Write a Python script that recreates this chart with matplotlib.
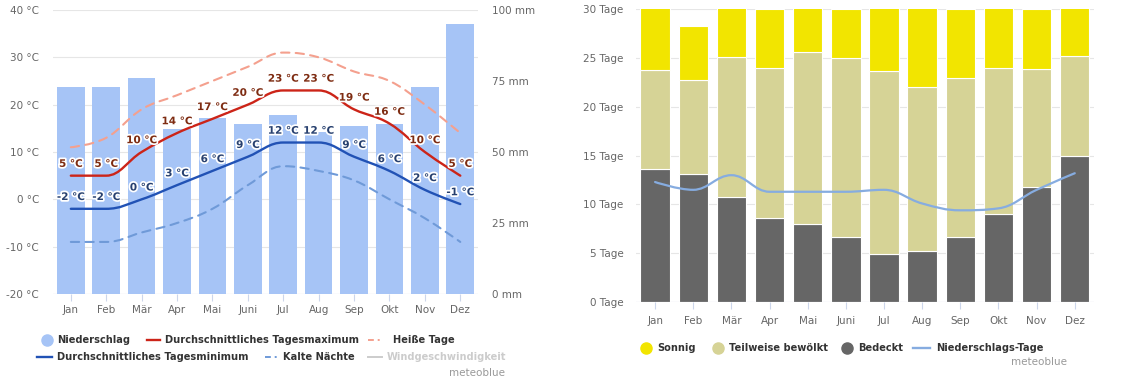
import numpy as np
import matplotlib
matplotlib.use("Agg")
import matplotlib.pyplot as plt
from matplotlib.path import Path
from matplotlib.patches import PathPatch
from matplotlib.lines import Line2D
import matplotlib.patheffects as pe

plt.rcParams['font.family'] = ['DejaVu Sans']

months = ["Jan", "Feb", "Mär", "Apr", "Mai", "Juni", "Jul", "Aug", "Sep", "Okt", "Nov", "Dez"]

# left chart
precip = [73, 73, 76, 58, 62, 60, 63, 57, 59, 60, 73, 95]
t_max = [5, 5, 10, 14, 17, 20, 23, 23, 19, 16, 10, 5]
t_min = [-2, -2, 0, 3, 6, 9, 12, 12, 9, 6, 2, -1]
hot_days = [11, 13, 19, 22, 25, 28, 31, 30, 27, 25, 20, 14]
cold_nights = [-9, -9, -7, -5, -2, 3, 7, 6, 4, 0, -4, -9]

# right chart
overcast = [13.6, 13.1, 10.8, 8.6, 8.0, 6.7, 4.9, 5.2, 6.7, 9.0, 11.8, 15.0]
partly = [10.2, 9.7, 14.3, 15.4, 17.6, 18.3, 18.8, 16.8, 16.3, 15.0, 12.1, 10.2]
sunny = [7.2, 5.45, 5.9, 6.0, 5.4, 5.0, 7.3, 9.0, 7.0, 7.0, 6.1, 5.8]
rain_days = [12.3, 11.5, 13.0, 11.3, 11.3, 11.3, 11.5, 10.1, 9.4, 9.6, 11.5, 13.2]

GRID = "#e6e6e6"
TICK = "#ccd6eb"
LBL = "#666666"


def spline_path(xs, ys, smoothing=1.5):
    # Highcharts style spline: cubic bezier segments between the data points
    denom = smoothing + 1
    n = len(xs)
    lc = [None] * n
    rc = [None] * n
    for i in range(1, n - 1):
        x, y = xs[i], ys[i]
        lx, ly = xs[i - 1], ys[i - 1]
        nx, ny = xs[i + 1], ys[i + 1]
        lcx = (smoothing * x + lx) / denom
        lcy = (smoothing * y + ly) / denom
        rcx = (smoothing * x + nx) / denom
        rcy = (smoothing * y + ny) / denom
        corr = (rcy - lcy) * (rcx - x) / (rcx - lcx) + y - rcy
        lcy += corr
        rcy += corr
        if lcy > ly and lcy > y:
            lcy = max(ly, y)
            rcy = 2 * y - lcy
        elif lcy < ly and lcy < y:
            lcy = min(ly, y)
            rcy = 2 * y - lcy
        if rcy > ny and rcy > y:
            rcy = max(ny, y)
            lcy = 2 * y - rcy
        elif rcy < ny and rcy < y:
            rcy = min(ny, y)
            lcy = 2 * y - rcy
        lc[i] = (lcx, lcy)
        rc[i] = (rcx, rcy)
    verts = [(xs[0], ys[0])]
    codes = [Path.MOVETO]
    for i in range(1, n):
        c1 = rc[i - 1] if rc[i - 1] else (xs[i - 1], ys[i - 1])
        c2 = lc[i] if lc[i] else (xs[i], ys[i])
        verts += [c1, c2, (xs[i], ys[i])]
        codes += [Path.CURVE4] * 3
    return Path(verts, codes)


def draw_spline(ax, xs, ys, color, lw, dashes=None):
    patch = PathPatch(spline_path(list(xs), list(ys)), facecolor="none",
                      edgecolor=color, lw=lw, capstyle="round", joinstyle="round")
    if dashes:
        patch.set_linestyle((0, dashes))
    ax.add_patch(patch)


def style_axis(ax):
    for s in ax.spines.values():
        s.set_visible(False)
    ax.tick_params(axis="y", length=0, labelsize=7.5, labelcolor=LBL)
    ax.tick_params(axis="x", length=5, width=0.8, color=TICK, labelsize=7.5,
                   labelcolor=LBL, pad=3)


fig = plt.figure(figsize=(11.4, 3.87), dpi=100)

# ---------------- left chart ----------------
x = np.arange(12)
ax = fig.add_axes([0.0466, 0.2403, 0.3727, 0.7339])
ax2 = ax.twinx()
ax3 = ax.twinx()

ax.set_ylim(-20, 40)
ax.set_yticks(range(-20, 41, 10))
ax.set_yticklabels([f"{v} °C" for v in range(-20, 41, 10)])
ax.grid(axis="y", color=GRID, lw=0.8)
ax.set_axisbelow(True)
ax.set_xlim(-0.5, 11.5)
ax.set_xticks(x)
ax.set_xticklabels(months)
style_axis(ax)
ax.tick_params(axis="y", pad=10)
ax.axhline(-20, color=TICK, lw=0.8)

ax2.set_ylim(0, 100)
ax2.set_yticks([0, 25, 50, 75, 100])
ax2.set_yticklabels([f"{v} mm" for v in [0, 25, 50, 75, 100]])
ax2.bar(x, precip, width=0.78, color="#a6c4f6", zorder=2)
style_axis(ax2)
ax2.tick_params(axis="y", pad=10)

ax3.set_ylim(-20, 40)
ax3.set_yticks([])
for s in ax3.spines.values():
    s.set_visible(False)
draw_spline(ax3, x, hot_days, "#f4a08e", 1.5, (4, 3))
draw_spline(ax3, x, cold_nights, "#6f9ad8", 1.5, (4, 3))
draw_spline(ax3, x, t_max, "#cc2418", 1.7)
draw_spline(ax3, x, t_min, "#2152b5", 1.7)

outline = [pe.withStroke(linewidth=2.5, foreground="white")]
for i in range(12):
    ax3.annotate(f"{t_max[i]} °C", (x[i], t_max[i]), xytext=(0, 8.5),
                 textcoords="offset points", ha="center", va="center",
                 fontsize=7.5, fontweight="bold", color="#7e2c12", path_effects=outline)
    ax3.annotate(f"{t_min[i]} °C", (x[i], t_min[i]), xytext=(0, 8.5),
                 textcoords="offset points", ha="center", va="center",
                 fontsize=7.5, fontweight="bold", color="#27406f", path_effects=outline)

# ---------------- right chart ----------------
bx = fig.add_axes([0.5579, 0.2196, 0.4016, 0.7563])
bx.set_ylim(0, 30)
bx.set_xlim(-0.5, 11.5)
bx.set_yticks(range(0, 31, 5))
bx.set_yticklabels([f"{v} Tage" for v in range(0, 31, 5)])
bx.grid(axis="y", color=GRID, lw=0.8)
bx.set_axisbelow(True)
bx.set_xticks(x)
bx.set_xticklabels(months)
style_axis(bx)
bx.tick_params(axis="y", pad=9)
bx.tick_params(axis="x", pad=5)
bx.axhline(0, color=TICK, lw=0.8)

bottom2 = np.array(overcast) + np.array(partly)
bx.bar(x, overcast, width=0.77, color="#666666", edgecolor="white", lw=0.8)
bx.bar(x, partly, bottom=overcast, width=0.77, color="#d6d396", edgecolor="white", lw=0.8)
bx.bar(x, sunny, bottom=bottom2, width=0.77, color="#f2e500", edgecolor="white", lw=0.8)
draw_spline(bx, x, rain_days, "#86ace0", 1.6)

# ---------------- legends ----------------
def px(xp, yp):
    return xp / 1140, 1 - yp / 387


def leg_text(xp, yp, s, color="#333333"):
    fig.text(*px(xp, yp), s, fontsize=7.1, fontweight="bold", color=color,
             ha="left", va="center")


def leg_line(x0, x1, yp, color, dashes=None, lw=1.7):
    (a0, b0), (a1, _) = px(x0, yp), px(x1, yp)
    ln = Line2D([a0, a1], [b0, b0], color=color, lw=lw, transform=fig.transFigure)
    if dashes:
        ln.set_dashes(dashes)
    fig.add_artist(ln)


def leg_dot(xp, yp, color):
    a, b = px(xp, yp)
    fig.add_artist(Line2D([a], [b], marker="o", ms=8, color=color, lw=0,
                          transform=fig.transFigure))


leg_dot(47, 340, "#a6c4f6")
leg_text(57, 340, "Niederschlag")
leg_line(147, 160, 340, "#cc2418")
leg_text(165, 340, "Durchschnittliches Tagesmaximum")
leg_line(368, 381, 340, "#f4a08e", (3, 2, 1, 2), 1.4)
leg_text(393, 340, "Heiße Tage")

leg_line(37, 52, 357, "#2152b5")
leg_text(57, 357, "Durchschnittliches Tagesminimum")
leg_line(265, 279, 357, "#6f9ad8", (3, 2, 1, 2), 1.4)
leg_text(283, 357, "Kalte Nächte")
leg_line(368, 382, 357, "#cccccc", lw=1.4)
leg_text(387, 357, "Windgeschwindigkeit", color="#cccccc")
fig.text(*px(505, 373), "meteoblue", fontsize=7.5, color="#999999", ha="right", va="center")

leg_dot(646, 348, "#f2e500")
leg_text(657, 348, "Sonnig")
leg_dot(718, 348, "#d6d396")
leg_text(729, 348, "Teilweise bewölkt")
leg_dot(847, 348, "#666666")
leg_text(858, 348, "Bedeckt")
leg_line(913, 930, 348, "#86ace0")
leg_text(936, 348, "Niederschlags-Tage")
fig.text(*px(1067, 362), "meteoblue", fontsize=7.5, color="#999999", ha="right", va="center")

fig.savefig("out.png", dpi=100, facecolor="white")
